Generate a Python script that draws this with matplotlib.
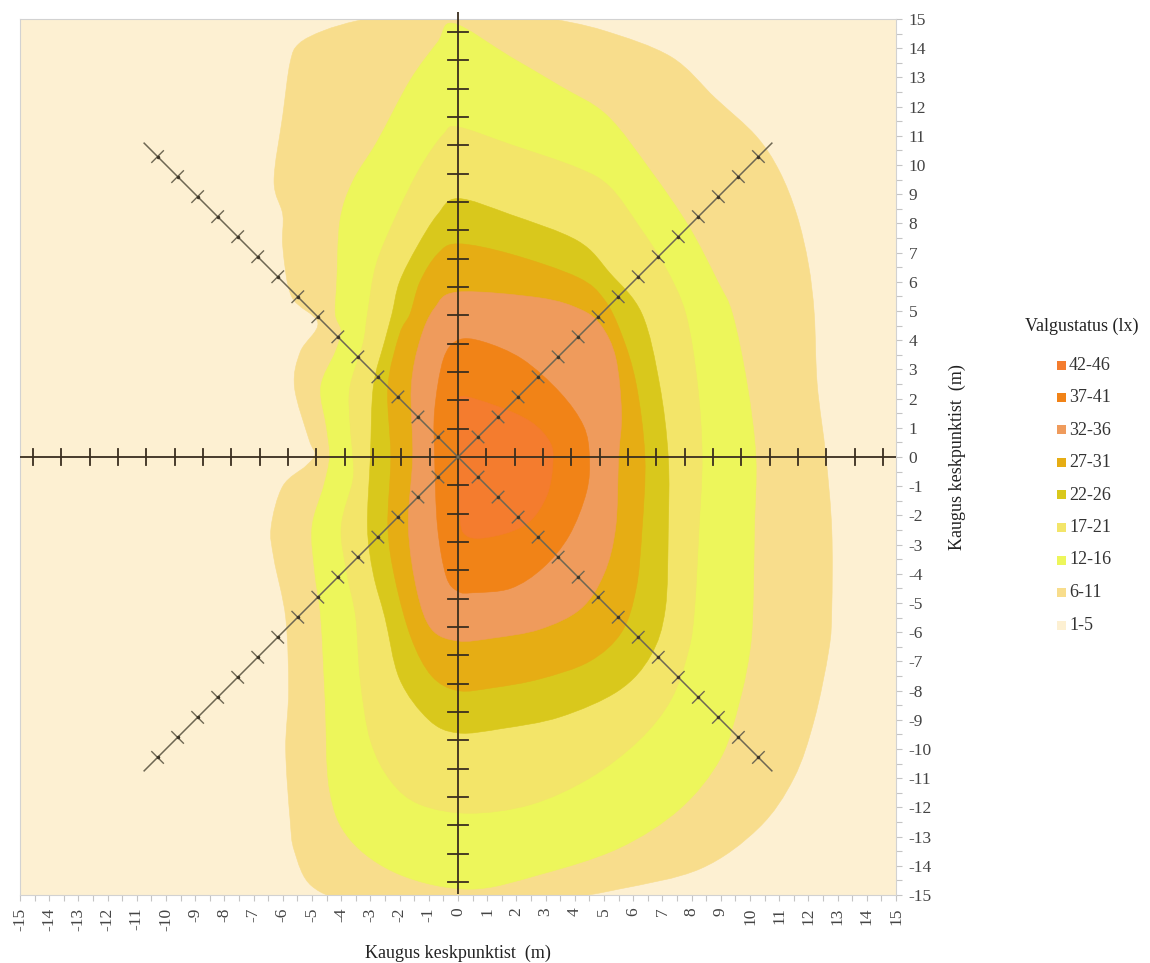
import numpy as np
import matplotlib
matplotlib.use("Agg")
import matplotlib.pyplot as plt
from matplotlib.path import Path
from matplotlib.patches import PathPatch, Rectangle

plt.rcParams['font.family'] = ['Liberation Serif', 'DejaVu Serif']

# Illuminance classes (lx) and their fill colours
class_labels = ["1-5", "6-11", "12-16", "17-21", "22-26", "27-31", "32-36", "37-41", "42-46"]
class_colors = ["#FDF0D2", "#F8DD8C", "#EDF65B", "#F3E569", "#D9C81C",
                "#E6AD14", "#EF9B5C", "#F18317", "#F47C2E"]

# Outer isolines of each class (m), traced clockwise
edge_6_x = [-5.75, -5.45, -4.6, -3.4, -1.5, 1.5, 3.0, 5.0, 7.3, 8.8, 10.2, 11.0, 11.6, 12.0, 12.2,
            12.3, 12.6, 12.8, 12.8, 12.7, 12.2, 11.5, 10.3, 8.3, 5.5, 3.0, 0.0, -3.5, -5.0, -5.6,
            -5.75, -5.9, -5.8, -5.9, -6.3, -6.4, -6.0, -5.2, -4.9, -5.1, -5.6, -5.4, -4.8, -5.7,
            -6.0, -6.0, -6.3, -6.0]
edge_6_y = [13.5, 14.15, 14.6, 14.95, 15.3, 15.3, 15.05, 14.6, 13.7, 12.3, 11.0, 9.8, 8.3, 6.6, 4.9,
            2.5, 0.0, -2.5, -5.2, -6.6, -9.0, -11.0, -12.7, -14.1, -14.8, -15.2, -15.3, -15.2, -14.7, -13.5,
            -12.4, -10.0, -8.0, -5.5, -3.5, -2.4, -1.0, -0.3, 0.1, 0.6, 2.4, 3.6, 4.6, 5.5,
            7.2, 8.3, 9.45, 11.7]

edge_12_x = [-0.15, 1.8, 3.5, 5.1, 6.6, 7.9, 8.9, 9.4, 9.9, 10.2, 10.15, 10.1, 10.0, 9.66, 9.0, 7.6,
             5.5, 2.8, 0.4, -2.0, -3.7, -4.4, -4.55, -4.7, -4.9, -5.0, -4.6, -4.4, -4.5, -4.7, -4.2,
             -4.0, -4.2, -4.15, -4.04, -3.6, -2.77, -1.64, -0.7]
edge_12_y = [14.85, 13.7, 12.7, 11.7, 9.8, 7.9, 6.0, 4.9, 2.5, 0.0, -2.5, -5.2, -6.6, -8.3, -10.3, -12.05,
             -13.4, -14.3, -14.8, -14.3, -13.1, -11.4, -8.3, -5.5, -4.0, -2.4, -1.0, 0.0, 1.0, 2.4, 3.6,
             4.3, 4.9, 6.0, 8.1, 9.45, 10.8, 12.9, 14.2]

edge_17_x = [0.0, 1.8, 4.1, 5.2, 6.2, 7.1, 7.8, 8.2, 8.36, 8.25, 8.1, 7.9, 7.3, 6.2, 4.5, 2.5, 0.4,
             -1.3, -2.3, -3.0, -3.35, -3.5, -3.8, -4.0, -3.6, -3.6, -3.7, -3.7, -3.25, -3.1, -2.8,
             -2.1, -1.3, -0.5]
edge_17_y = [11.3, 10.7, 9.9, 9.25, 7.9, 6.5, 4.9, 2.5, 0.0, -2.5, -5.2, -6.6, -8.3, -9.7, -11.0, -11.9,
             -12.2, -11.9, -11.1, -9.7, -7.6, -5.5, -4.0, -2.4, -0.8, 0.0, 1.2, 2.4, 3.9, 4.9, 6.6,
             8.3, 9.9, 11.05]

edge_22_x = [0.0, 1.8, 4.1, 5.2, 6.3, 6.9, 7.2, 7.2, 7.1, 6.6, 5.5, 3.5, 1.5, 0.0, -1.0, -2.0, -2.5,
             -2.9, -3.1, -3.0, -2.9, -2.5, -2.26, -2.0, -1.4, -0.7]
edge_22_y = [8.85, 8.3, 7.4, 6.3, 4.9, 2.5, 0.0, -2.5, -5.2, -6.8, -8.0, -8.9, -9.3, -9.45, -9.0, -7.6,
             -5.5, -4.0, -2.4, 0.0, 2.4, 4.0, 4.9, 6.0, 7.2, 8.3]

edge_27_x = [0.0, 1.8, 4.1, 5.0, 5.6, 6.1, 6.4, 6.3, 6.1, 5.6, 4.5, 2.8, 1.2, 0.0, -0.9, -1.6, -2.15,
             -2.4, -2.3, -2.4, -2.0, -1.64, -1.3, -0.7]
edge_27_y = [7.3, 6.95, 6.15, 5.4, 4.2, 2.5, 0.0, -2.5, -4.5, -6.0, -7.0, -7.6, -7.9, -8.0, -7.5, -6.2,
             -4.2, -2.4, 0.0, 2.4, 4.2, 4.9, 6.0, 6.95]

edge_32_x = [0.0, 2.8, 4.2, 4.9, 5.4, 5.6, 5.5, 5.4, 5.0, 4.2, 2.8, 1.2, 0.0, -0.9, -1.4, -1.7, -1.55,
             -1.6, -1.3, -0.8]
edge_32_y = [5.65, 5.45, 5.05, 4.5, 3.4, 1.5, 0.0, -2.4, -4.0, -5.2, -5.9, -6.2, -6.3, -5.9, -4.6, -2.4,
             0.0, 2.4, 4.0, 5.1]

edge_37_x = [0.0, 0.85, 2.2, 3.5, 4.3, 4.5, 4.4, 3.8, 2.9, 1.8, 0.5, 0.0, -0.4, -0.7, -0.8, -0.8, -0.5]
edge_37_y = [4.0, 3.95, 3.35, 2.2, 1.06, 0.0, -1.2, -2.7, -3.8, -4.5, -4.65, -4.6, -4.1, -2.4, 0.0, 1.6, 3.35]

edge_42_x = [0.05, 1.3, 2.5, 3.15, 3.25, 3.05, 2.4, 1.3, 0.3, 0.05, 0.05]
edge_42_y = [2.05, 1.75, 1.2, 0.5, -0.2, -1.3, -2.25, -2.7, -2.7, -1.8, 1.2]

class_edges = [(edge_6_x, edge_6_y), (edge_12_x, edge_12_y), (edge_17_x, edge_17_y),
               (edge_22_x, edge_22_y), (edge_27_x, edge_27_y), (edge_32_x, edge_32_y),
               (edge_37_x, edge_37_y), (edge_42_x, edge_42_y)]

# Measuring rays: step between marks (m) and number of marks per ray
mark_step = 0.97
mark_count = 15
diag_length = 15.2


def closed_spline_path(xs, ys):
    """Closed Catmull-Rom curve through the points, as cubic Bezier segments."""
    p = np.column_stack([xs, ys]).astype(float)
    n = len(p)
    verts = [p[0]]
    codes = [Path.MOVETO]
    for i in range(n):
        p0, p1, p2, p3 = p[i - 1], p[i], p[(i + 1) % n], p[(i + 2) % n]
        c1 = p1 + (p2 - p0) / 6.0
        c2 = p2 - (p3 - p1) / 6.0
        verts += [c1, c2, p2]
        codes += [Path.CURVE4] * 3
    verts.append(p[0])
    codes.append(Path.CLOSEPOLY)
    return Path(np.array(verts), codes)


W, H = 1150, 963
fig = plt.figure(figsize=(W / 100, H / 100), dpi=100)
fig.patch.set_facecolor("white")
ax = fig.add_axes([20 / W, 68 / H, 876 / W, 876 / H])
ax.set_xlim(-15, 15)
ax.set_ylim(-15, 15)
ax.set_facecolor(class_colors[0])

for (xs, ys), col in zip(class_edges, class_colors[1:]):
    ax.add_patch(PathPatch(closed_spline_path(xs, ys), facecolor=col, edgecolor=col,
                           linewidth=0.4, zorder=1))

# Main measuring axes with marks
axis_col = "#3A2E1F"
ax.plot([-15, 15], [0, 0], color=axis_col, lw=1.3, zorder=3, solid_capstyle="butt")
ax.plot([0, 0], [-14.95, 15.25], color=axis_col, lw=1.3, zorder=3, clip_on=False,
        solid_capstyle="butt")
k = np.arange(1, mark_count + 1) * mark_step
for d in np.concatenate([k, -k]):
    ax.plot([d, d], [-0.28, 0.28], color=axis_col, lw=1.3, zorder=3)
    ax.plot([-0.33, 0.33], [d, d], color=axis_col, lw=1.3, zorder=3)

# Diagonal measuring rays
diag_col = "#6E6753"
for sx, sy in [(1, 1), (1, -1), (-1, 1), (-1, -1)]:
    ux, uy = sx / np.sqrt(2), sy / np.sqrt(2)
    ax.plot([0, ux * diag_length], [0, uy * diag_length], color=diag_col, lw=1.1, zorder=3)
    px, py = -uy, ux
    for d in k:
        cx, cy = ux * d, uy * d
        ax.plot([cx - px * 0.28, cx + px * 0.28], [cy - py * 0.28, cy + py * 0.28],
                color=diag_col, lw=1.0, zorder=3)
        ax.plot([cx], [cy], marker="o", ms=1.5, color="#3A3326", zorder=4)

# Frame and ticks
for s in ax.spines.values():
    s.set_color("#D2D2D2")
    s.set_linewidth(0.8)
ax.yaxis.tick_right()
ax.yaxis.set_label_position("right")
ticks = np.arange(-15, 16)
ax.set_xticks(ticks)
ax.set_yticks(ticks)
ax.set_xticks(np.arange(-14.5, 15, 1.0), minor=True)
ax.set_yticks(np.arange(-14.5, 15, 1.0), minor=True)
ax.set_xticklabels([str(t) for t in ticks], rotation=90)
ax.set_yticklabels([str(t) for t in ticks])
ax.tick_params(which="both", color="#C4C4C4", width=0.8, length=4,
               labelsize=12.5, labelcolor="#444444", pad=5)
ax.tick_params(axis="x", pad=5)
ax.set_xlabel("Kaugus keskpunktist  (m)", fontsize=13, color="#222222", labelpad=10)
ax.set_ylabel("Kaugus keskpunktist  (m)", fontsize=13, color="#222222", labelpad=12,
              rotation=90)

# Legend
fig.text(1082 / W, 1 - 326 / H, "Valgustatus (lx)", fontsize=13, color="#222222",
         ha="center", va="center")
for i, (lab, col) in enumerate(zip(class_labels[::-1], class_colors[::-1])):
    yc = 365 + 32.5 * i
    fig.add_artist(Rectangle((1057 / W, 1 - (yc + 4.5) / H), 9 / W, 9 / H,
                             transform=fig.transFigure, facecolor=col, edgecolor="none"))
    fig.text(1069 / W, 1 - yc / H, lab, fontsize=13, color="#333333", ha="left", va="center")

fig.savefig("out.png", dpi=100)
